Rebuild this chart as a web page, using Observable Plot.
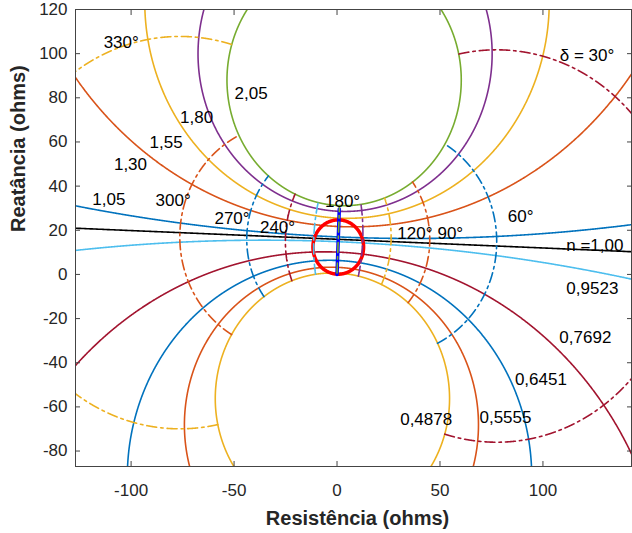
<!DOCTYPE html>
<html><head><meta charset="utf-8">
<script src="https://cdn.jsdelivr.net/npm/d3@7"></script>
<script src="https://cdn.jsdelivr.net/npm/@observablehq/plot@0.6"></script>
<style>
html,body{margin:0;padding:0;background:#fff;overflow:hidden;}
#chart{width:632px;height:533px;}
svg text{font-family:"Liberation Sans",Arial,Helvetica,sans-serif;}
</style></head><body><div id="chart"></div>
<script>
// ---- system impedances (R, X in ohms) ----
const sourceImpedance = [1.15, 28.5];   // Z_S, behind the relay
const lineImpedance   = [1.1, 29.6];    // Z_L (blue segment)
const remoteImpedance = [1.25, 30.7];   // Z_R
// ---- ratio n = |Es|/|Er| circles ----
const nUpper = [1.05, 1.30, 1.55, 1.80, 2.05];
const nLower = [0.9523, 0.7692, 0.6451, 0.5555, 0.4878];
const nUnity = 1.0;
// ---- load angle delta curves (degrees) ----
const deltaDeg = [30, 60, 90, 120, 150, 180, 210, 240, 270, 300, 330];
// ---- mho relay characteristic ----
const mhoCenter = [0.6, 12.4];
const mhoRadius = 12.3;
// ---- axes ----
const xDomain = [-127, 143];
const yDomain = [-87, 120];
const xTicks = [-100, -50, 0, 50, 100];
const yTicks = [-80, -60, -40, -20, 0, 20, 40, 60, 80, 100, 120];
// ---- annotations ----
const nLabelText = ["2,05", "1,80", "1,55", "1,30", "1,05", "0,9523", "0,7692", "0,6451", "0,5555", "0,4878"];
const nLabelX = [-41.7, -68.2, -83.0, -100.3, -110.8, 124.0, 120.6, 99.0, 81.8, 43.3];
const nLabelY = [81.8, 71.2, 59.9, 49.6, 33.7, -6.3, -28.7, -47.4, -64.8, -65.9];
const unityLabelText = ["n =1,00"];
const unityLabelX = [111.3];
const unityLabelY = [13.3];
const deltaLabelText = ["330°", "300°", "270°", "240°", "180°", "120°", "90°", "60°", "δ = 30°"];
const deltaLabelX = [-104.8, -79.6, -51.0, -28.9, 2.7, 37.8, 55.0, 89.2, 121.4];
const deltaLabelY = [104.9, 33.3, 25.2, 21.3, 33.1, 18.4, 18.4, 26.4, 99.0];

// ---- styles ----
const nColor = ["#0072BD", "#D95319", "#EDB120", "#7E2F8E", "#77AC30",
                "#4DBEEE", "#A2142F", "#0072BD", "#D95319", "#EDB120"];
const deltaColor = ["#A2142F", "#0072BD", "#D95319", "#EDB120", "#7E2F8E", "#77AC30",
                    "#4DBEEE", "#A2142F", "#0072BD", "#D95319", "#EDB120"];

// ---- model: Z = -Zs + Zt * m/(m-1),  m = n e^{j delta} ----
const P1 = [-sourceImpedance[0], -sourceImpedance[1]];
const ZT = [sourceImpedance[0] + lineImpedance[0] + remoteImpedance[0],
            sourceImpedance[1] + lineImpedance[1] + remoteImpedance[1]];
function locus(n, deg) {
  const d = deg * Math.PI / 180;
  const mr = n * Math.cos(d), mi = n * Math.sin(d);
  const ar = mr - 1, ai = mi, den = ar * ar + ai * ai;
  const wr = (mr * ar + mi * ai) / den, wi = (mi * ar - mr * ai) / den;
  return {x: P1[0] + ZT[0] * wr - ZT[1] * wi, y: P1[1] + ZT[0] * wi + ZT[1] * wr};
}
const nAll = [...nUpper, ...nLower];
const nMin = Math.min(...nLower), nMax = Math.max(...nUpper);

const nCurves = nAll.map(n => d3.range(0.05, 360, 0.1).map(deg => locus(n, deg)));
const unityCurve = d3.range(1, 359.01, 0.25).map(deg => locus(nUnity, deg));
const deltaCurves = deltaDeg.map(deg => d3.range(0, 4001).map(k => locus(nMin + (nMax - nMin) * k / 4000, deg)));
const mhoCurve = d3.range(0, 361, 1).map(a => ({x: mhoCenter[0] + mhoRadius * Math.cos(a * Math.PI / 180),
                                                y: mhoCenter[1] + mhoRadius * Math.sin(a * Math.PI / 180)}));
const lineSegment = [{x: 0, y: 0}, {x: lineImpedance[0], y: lineImpedance[1]}];

const dash = "10,4,2.5,4";
const marks = [];
nCurves.forEach((c, i) => marks.push(Plot.line(c, {x: "x", y: "y", stroke: nColor[i], strokeWidth: 1.6, clip: true})));
marks.push(Plot.line(unityCurve, {x: "x", y: "y", stroke: "#000000", strokeWidth: 1.6, clip: true}));
marks.push(Plot.line(mhoCurve, {x: "x", y: "y", stroke: "#FF0000", strokeWidth: 3.5, clip: true}));
marks.push(Plot.line(lineSegment, {x: "x", y: "y", stroke: "#0000FF", strokeWidth: 3.5, clip: true}));
deltaCurves.forEach((c, i) => marks.push(Plot.line(c, {x: "x", y: "y", stroke: deltaColor[i], strokeWidth: 1.6, strokeDasharray: dash, clip: true})));

const txt = {fontSize: 17, fill: "#000", textAnchor: "middle", lineAnchor: "middle", letterSpacing: 0.6};
marks.push(Plot.text(nLabelText, {x: (d, i) => nLabelX[i], y: (d, i) => nLabelY[i], text: d => d, ...txt}));
marks.push(Plot.text(deltaLabelText, {x: (d, i) => deltaLabelX[i], y: (d, i) => deltaLabelY[i], text: d => d, ...txt}));
marks.push(Plot.text(unityLabelText, {x: (d, i) => unityLabelX[i], y: (d, i) => unityLabelY[i], text: d => d, ...txt, textAnchor: "start"}));

const axisColor = "#262626";
marks.push(Plot.frame({stroke: "#444", strokeWidth: 1}));
// tick labels
marks.push(Plot.axisX(xTicks, {anchor: "bottom", tickSize: 0, tickPadding: 17, fontSize: 17, fill: axisColor, label: null, tickFormat: d => String(d)}));
marks.push(Plot.axisY(yTicks, {anchor: "left", tickSize: 0, tickPadding: 8, fontSize: 17, fill: axisColor, label: null, tickFormat: d => String(d)}));
// inward tick marks on all four sides
marks.push(Plot.axisX(xTicks, {anchor: "bottom", tickSize: 5, insetBottom: 5, stroke: "#444", tickFormat: () => "", label: null}));
marks.push(Plot.axisX(xTicks, {anchor: "top", tickSize: 5, insetTop: 5, stroke: "#444", tickFormat: () => "", label: null}));
marks.push(Plot.axisY(yTicks, {anchor: "left", tickSize: 5, insetLeft: 5, stroke: "#444", tickFormat: () => "", label: null}));
marks.push(Plot.axisY(yTicks, {anchor: "right", tickSize: 5, insetRight: 5, stroke: "#444", tickFormat: () => "", label: null}));
// axis titles
marks.push(Plot.text(["Resistência (ohms)"], {frameAnchor: "bottom", dx: 4, dy: 52, text: d => d, fontSize: 20, fontWeight: "bold", fill: axisColor, lineAnchor: "middle", letterSpacing: 0.6}));
marks.push(Plot.text(["Reatância (ohms)"], {frameAnchor: "left", dx: -57, dy: -6, rotate: -90, text: d => d, fontSize: 20, fontWeight: "bold", fill: axisColor, lineAnchor: "middle", letterSpacing: 0.6}));

const chart = Plot.plot({
  width: 632, height: 533,
  marginLeft: 75, marginRight: 1, marginTop: 9, marginBottom: 67,
  x: {domain: xDomain, axis: null},
  y: {domain: yDomain, axis: null},
  style: {fontFamily: "'Liberation Sans', Arial, sans-serif", background: "#fff"},
  marks
});
document.getElementById("chart").appendChild(chart);
</script>
</body></html>
